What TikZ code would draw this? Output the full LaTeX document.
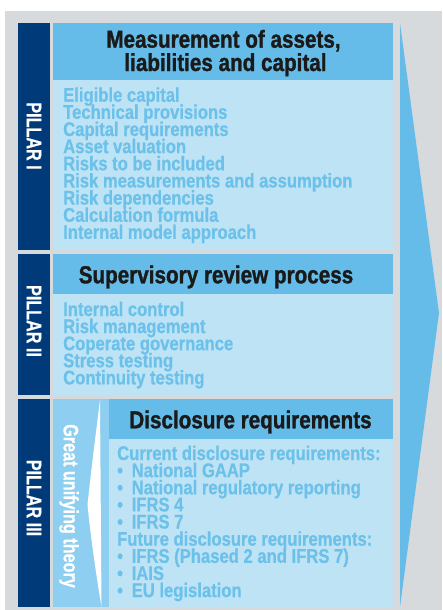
\documentclass[tikz,border=0pt]{standalone}
\usepackage{fontspec}
\setmainfont{Liberation Sans}[FakeStretch=0.85]
\newfontfamily\hdrfont{Liberation Sans}[FakeStretch=0.84, FakeBold=1.2]
\newfontfamily\listfont{Liberation Sans}[FakeStretch=0.84, FakeBold=0.6]
\newfontfamily\pilfont{Liberation Sans}[FakeStretch=0.77, FakeBold=0.6]
\definecolor{bggray}{HTML}{D6DADD}
\definecolor{navy}{HTML}{003A78}
\definecolor{hdrblue}{HTML}{66BCE8}
\definecolor{lightblue}{HTML}{BEE3F5}
\definecolor{listblue}{HTML}{6CC1EB}
\definecolor{midblue}{HTML}{8ECEF0}
\definecolor{titleblack}{HTML}{1A1A1A}
\tikzset{
  hdrtxt/.style={inner sep=0pt, text=titleblack, font=\hdrfont\fontsize{24.6}{23.3}\selectfont\bfseries, anchor=base, text height=18, text depth=4},
  listtxt/.style={inner sep=0pt, text=listblue, font=\listfont\fontsize{19.8}{17}\selectfont\bfseries, anchor=base west, text height=13, text depth=3.5},
  pillartxt/.style={inner sep=0pt, text=white, font=\pilfont\fontsize{21}{17}\selectfont\bfseries, rotate=-90},
}
\begin{document}
\begin{tikzpicture}[x=1pt,y=-1pt]
\useasboundingbox (0,0) rectangle (442,610);
% background
\fill[white] (0,0) rectangle (442,610);
\fill[bggray] (5,11) rectangle (442,610);
% big arrow
\fill[hdrblue] (400,23) -- (439,313) -- (400,607) -- cycle;
% pillar columns
\fill[navy] (18,23) rectangle (50,250);
\fill[navy] (18,254) rectangle (50,395);
\fill[navy] (18,399) rectangle (50,607);
% pillar I
\fill[hdrblue] (53,23) rectangle (393,80);
\fill[lightblue] (53,80) rectangle (393,250);
% pillar II
\fill[hdrblue] (53,254) rectangle (393,294);
\fill[lightblue] (53,294) rectangle (393,395);
% pillar III
\fill[midblue] (53,399) rectangle (109,607);
\fill[white] (100,400) .. controls (95,440) and (90,480) .. (87.5,505)
  .. controls (91,540) and (97,580) .. (101.5,607) -- cycle;
\fill[hdrblue] (109,399) rectangle (393,439);
\fill[lightblue] (109,439) rectangle (393,607);
% pillar labels
\node[pillartxt] (p1) at (34,136) {PILLAR I};
\node[pillartxt] (p2) at (34,321) {PILLAR II};
\node[pillartxt] (p3) at (34,498) {PILLAR III};
\node[pillartxt] (gut) at (69,506) {Great unifying theory};
% headers
\node[hdrtxt] (h1a) at (223.5,47.7) {Measurement of assets,};
\node[hdrtxt] (h1b) at (225.5,71) {liabilities and capital};
\node[hdrtxt] (h2) at (216,283.3) {Supervisory review process};
\node[hdrtxt] (h3) at (250.5,428.3) {Disclosure requirements};
% pillar I list
\foreach \t [count=\i] in {Eligible capital, Technical provisions, Capital requirements,
  Asset valuation, Risks to be included, Risk measurements and assumption,
  Risk dependencies, Calculation formula, Internal model approach}
  \node[listtxt] (pa\i) at (63,{101.7+17.15*(\i-1)}) {\t};
% pillar II list
\foreach \t [count=\i] in {Internal control, Risk management, Coperate governance,
  Stress testing, Continuity testing}
  \node[listtxt] (pb\i) at (63,{316+17.1*(\i-1)}) {\t};
% pillar III list
\node[listtxt] (pc1) at (117,460) {Current disclosure requirements:};
\foreach \t [count=\i] in {National GAAP, National regulatory reporting, IFRS 4, IFRS 7}
  {\node[listtxt] (bc\i) at (117,{460+17.13*\i}) {\textbullet};
   \node[listtxt] (pcb\i) at (131.5,{460+17.13*\i}) {\t};}
\node[listtxt] (pc6) at (117,545.7) {Future disclosure requirements:};
\foreach \t [count=\i] in {IFRS (Phased 2 and IFRS 7), IAIS, EU legislation}
  {\node[listtxt] (bf\i) at (117,{545.7+17.13*\i}) {\textbullet};
   \node[listtxt] (pfb\i) at (131.5,{545.7+17.13*\i}) {\t};}
\end{tikzpicture}
\end{document}
